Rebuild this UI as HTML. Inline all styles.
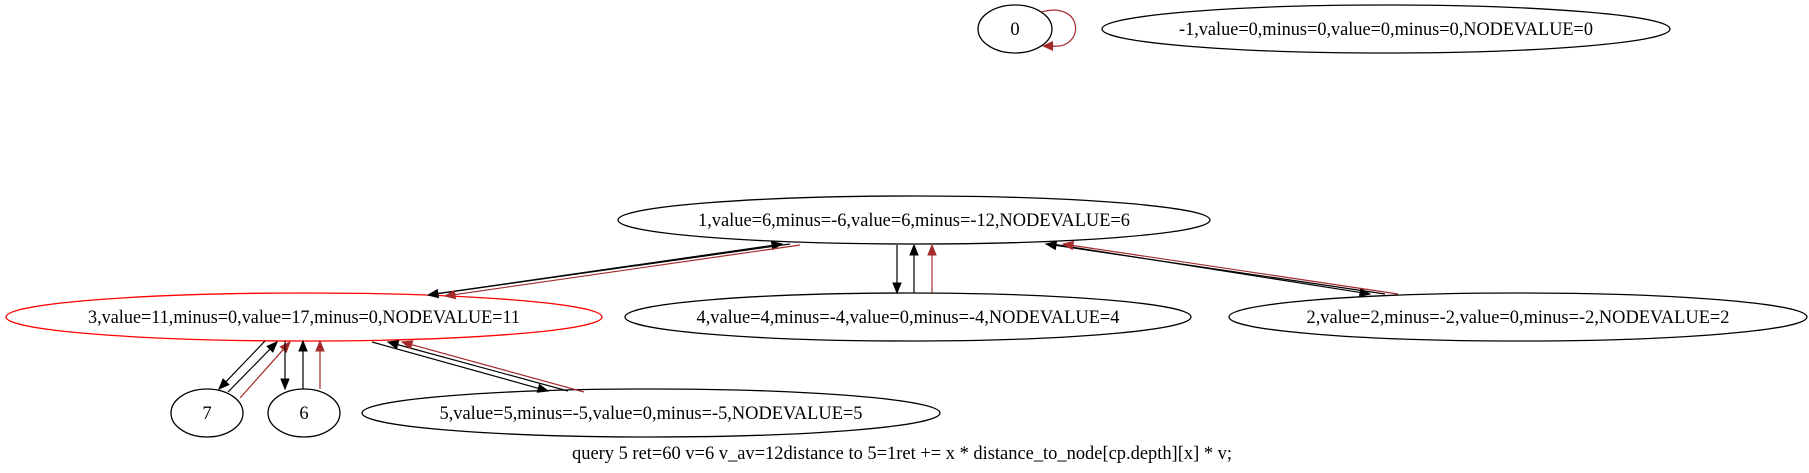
<!DOCTYPE html>
<html><head><meta charset="utf-8"><style>
html,body{margin:0;padding:0;background:#fff;width:1809px;height:473px;overflow:hidden}
svg text{font-family:"Liberation Serif",serif;font-size:18.5px;fill:#000}
</style></head><body>
<svg id="g" width="1809" height="473" viewBox="0 0 1809 473" xmlns="http://www.w3.org/2000/svg"></svg>
<script>
const nodeIds = ["0","-1","1","3","4","2","7","6","5"];
const nodeLabels = ["0","-1,value=0,minus=0,value=0,minus=0,NODEVALUE=0","1,value=6,minus=-6,value=6,minus=-12,NODEVALUE=6","3,value=11,minus=0,value=17,minus=0,NODEVALUE=11","4,value=4,minus=-4,value=0,minus=-4,NODEVALUE=4","2,value=2,minus=-2,value=0,minus=-2,NODEVALUE=2","7","6","5,value=5,minus=-5,value=0,minus=-5,NODEVALUE=5"];
const nodeCx = [1015,1386,914,304,908,1518,207,304,651];
const nodeCy = [29,29,220,317,317,317,413,413,413];
const nodeRx = [37,284,296,298,283,289,36,36,289];
const nodeColors = ["#000","#000","#000","#f00","#000","#000","#000","#000","#000"];
// edges: [x1,y1,x2,y2,color] arrow at end
const edgeFrom = [[790,244],[435,294],[800,245],[897,245],[914,293],[932,293],[1052,244],[1385,294],[1398,294],[265,341],[228,392],[240,398],[285,341],[303,389],[320,389],[372,342],[568,391],[584,392]];
const edgeTo = [[428,295],[782,244],[445,296],[897,293],[914,245],[932,245],[1370,294],[1046,244],[1063,244],[219,389],[277,342],[290,342],[285,389],[303,341],[320,341],[548,391],[388,342],[402,342]];
const edgeColors = ["#000","#000","#a52a2a","#000","#000","#a52a2a","#000","#000","#a52a2a","#000","#000","#a52a2a","#000","#000","#a52a2a","#000","#000","#a52a2a"];
const caption = "query 5 ret=60 v=6 v_av=12distance to 5=1ret += x * distance_to_node[cp.depth][x] * v;";
const NS="http://www.w3.org/2000/svg", svg=document.getElementById('g');
function mk(t,a){const e=document.createElementNS(NS,t);for(const k in a)e.setAttribute(k,a[k]);svg.appendChild(e);return e;}
nodeIds.forEach((id,i)=>{
  const el=mk('ellipse',{cx:nodeCx[i],cy:nodeCy[i],rx:nodeRx[i],ry:24,fill:'none',stroke:nodeColors[i],'stroke-width':1.3});
  
  
  const t=mk('text',{x:nodeCx[i],y:nodeCy[i]+6,'text-anchor':'middle'});
  t.textContent=nodeLabels[i];
  if(nodeLabels[i].length>5){t.setAttribute('textLength',nodeLabels[i].length*9);t.setAttribute('lengthAdjust','spacingAndGlyphs');}
  
  
});
edgeFrom.forEach((f,i)=>{
  const [x1,y1]=f,[x2,y2]=edgeTo[i],c=edgeColors[i];
  const dx=x2-x1,dy=y2-y1,L=Math.hypot(dx,dy),ux=dx/L,uy=dy/L,bx=x2-ux*10,by=y2-uy*10;
  const l=mk('line',{x1:x1,y1:y1,x2:bx,y2:by,stroke:c,'stroke-width':1.2});
  
  
  const p=mk('polygon',{points:`${x2},${y2} ${bx-uy*4},${by+ux*4} ${bx+uy*4},${by-ux*4}`,fill:c,stroke:c});
  
  
});
const loop=mk('path',{d:'M1041,12 C1085,0 1085,50 1052,46',fill:'none',stroke:'#a52a2a','stroke-width':1.2});


const la=mk('polygon',{points:'1042,46 1053,41 1053,51',fill:'#a52a2a'});


const cap=mk('text',{x:902,y:459,'text-anchor':'middle',textLength:660,lengthAdjust:'spacingAndGlyphs'});
cap.textContent=caption;


</script>
</body></html>
